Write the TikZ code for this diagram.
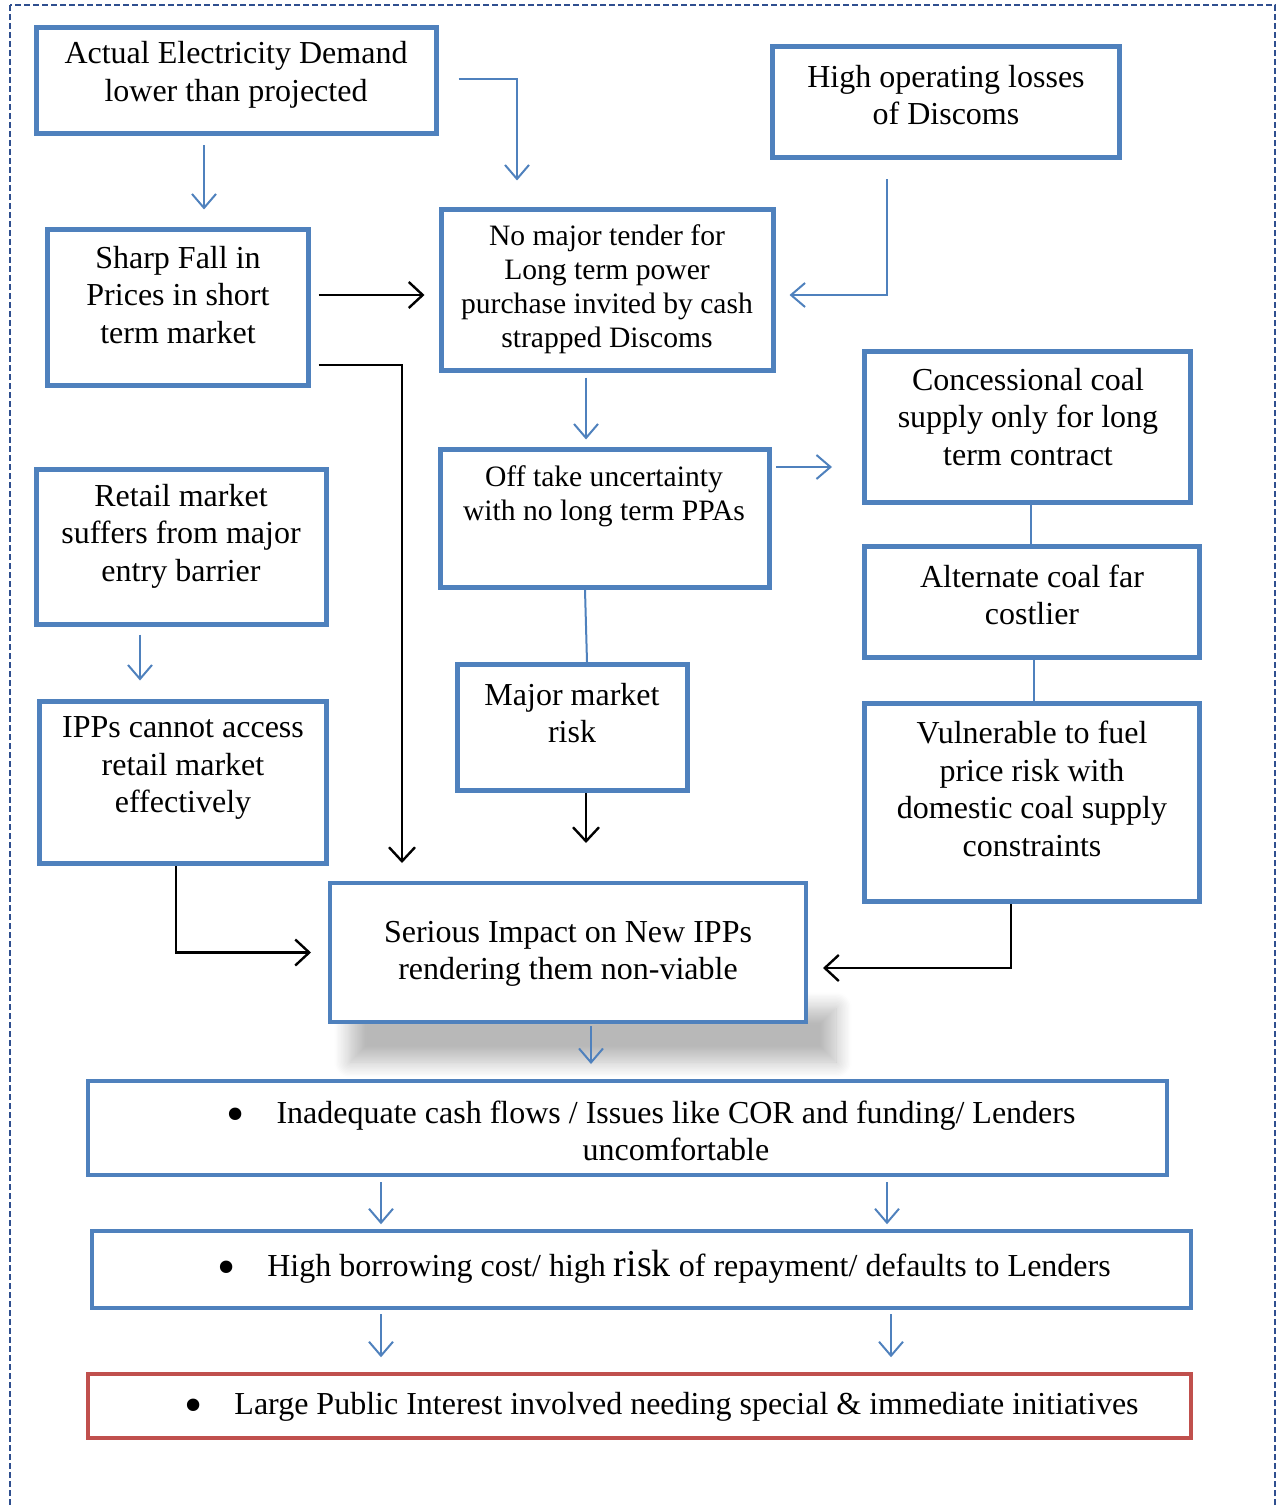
\documentclass[tikz,border=0pt]{standalone}
\usepackage{fontspec}
\setmainfont{Liberation Serif}
\usetikzlibrary{arrows.meta,shadows.blur}
\definecolor{obl}{HTML}{4F81BD}
\definecolor{ored}{HTML}{C0504D}
\definecolor{frm}{HTML}{2F4F8F}
\tikzset{
 box/.style={draw=obl, line width=2.5pt, fill=white, inner sep=0pt},
 txt/.style={align=center, font=\fontsize{16pt}{18.75pt}\selectfont, inner sep=0pt},
 txts/.style={align=center, font=\fontsize{14.8pt}{17pt}\selectfont, inner sep=0pt},
 barrow/.style={draw=obl, line width=1pt, -{Straight Barb[length=7pt,width=12pt]}},
 karrow/.style={draw=black, line width=1.2pt, -{Straight Barb[length=7pt,width=13pt]}},
 bline/.style={draw=obl, line width=1pt},
}
\newcommand{\bul}{\llap{\raisebox{-4pt}{\fontsize{26pt}{26pt}\selectfont\textbullet}\hspace{16pt}}}
\begin{document}
\begin{tikzpicture}[x=0.5pt,y=-0.5pt]
\useasboundingbox (0,0) rectangle (1282,1508);
\draw[frm, line width=1pt, dash pattern=on 3pt off 1.5pt] (10,5) rectangle (1275,1540);

% soft shadow below the central box
\path[blur shadow={shadow xshift=0pt, shadow yshift=0pt, shadow blur radius=8pt, shadow blur steps=12, shadow opacity=28}]
  (350,1008) rectangle (836,1062);

% boxes
\node[box, minimum width=200pt, minimum height=53pt] (act) at (236.5,80.5) {};
\node[box, minimum width=173.5pt, minimum height=55.5pt] (hol) at (946,102) {};
\node[box, minimum width=130.5pt, minimum height=78pt] (sharp) at (178,307.5) {};
\node[box, minimum width=166pt, minimum height=80.5pt] (tender) at (607.5,290) {};
\node[box, minimum width=163pt, minimum height=75.5pt] (conc) at (1027.5,427) {};
\node[box, minimum width=145pt, minimum height=77.5pt] (retail) at (181.5,547) {};
\node[box, minimum width=164.5pt, minimum height=69pt] (offtake) at (605,518.5) {};
\node[box, minimum width=167.5pt, minimum height=55.5pt] (alt) at (1032,602) {};
\node[box, minimum width=115pt, minimum height=63pt] (major) at (572.5,727.5) {};
\node[box, minimum width=143.5pt, minimum height=81pt] (ipps) at (183,782.5) {};
\node[box, minimum width=167.5pt, minimum height=99pt] (vuln) at (1032,802.5) {};
\node[box, line width=2pt, minimum width=238pt, minimum height=69.5pt] (serious) at (568,952.5) {};
\node[box, line width=2.25pt, minimum width=539.5pt, minimum height=47pt] (inad) at (627.5,1128) {};
\node[box, line width=2.25pt, minimum width=549.5pt, minimum height=38.5pt] (borrow) at (641.5,1269.5) {};
\node[box, draw=ored, line width=2.25pt, minimum width=551.5pt, minimum height=32pt] (large) at (639.5,1406) {};

% texts
\node[txt] (actt) at (236,75) {Actual Electricity Demand\\lower than projected};
\node[txt] (holt) at (946,95) {High operating losses\\of Discoms};
\node[txt] (sharpt) at (178,295) {Sharp Fall in\\Prices in short\\term market};
\node[txts] (tendert) at (607,289) {No major tender for\\Long term power\\purchase invited by cash\\strapped Discoms};
\node[txt] (conct) at (1028,417) {Concessional coal\\supply only for long\\term contract};
\node[txt] (retailt) at (181,536) {Retail market\\suffers from major\\entry barrier};
\node[txts] (offtaket) at (604,496) {Off take uncertainty\\with no long term PPAs};
\node[txt] (altt) at (1032,595) {Alternate coal far\\costlier};
\node[txt] (majort) at (572,713) {Major market\\risk};
\node[txt] (ippst) at (183,768) {IPPs cannot access\\retail market\\effectively};
\node[txt] (vulnt) at (1032,789) {Vulnerable to fuel\\price risk with\\domestic coal supply\\constraints};
\node[txt] (seriot) at (568,954) {Serious Impact on New IPPs\\rendering them non-viable};
\node[txt] (inadt) at (676,1131) {\bul Inadequate cash flows / Issues like COR and funding/ Lenders\\uncomfortable};
\node[txt] (borrowt) at (689,1267) {\bul High borrowing cost/ high {\fontsize{19pt}{19pt}\selectfont risk} of repayment/ defaults to Lenders};
\node[txt] (larget) at (686.5,1407) {\bul Large Public Interest involved needing special \& immediate initiatives};

% connectors
\draw[barrow] ([xshift=-16.25pt,yshift=-4.75pt]act.south) -- ++(0,64);
\draw[barrow] ([xshift=9.75pt,yshift=0.75pt]act.east) -| ([xshift=-45.25pt,yshift=13.25pt]tender.north);
\draw[barrow] ([xshift=-29.5pt,yshift=-9.75pt]hol.south) |- ([xshift=6.75pt,yshift=-2.5pt]tender.east);
\draw[karrow] ([xshift=3.75pt,yshift=6.25pt]sharp.east) -- ++(106,0);
\draw[karrow] ([xshift=3.75pt,yshift=-28.75pt]sharp.east) -| ([xshift=-83pt,yshift=9pt]serious.north);
\draw[barrow] ([xshift=-10.75pt,yshift=-2.25pt]tender.south) -- ++(0,62);
\draw[barrow] ([xshift=2pt,yshift=25.75pt]offtake.east) -- ++(56,0);
\draw[bline] ([xshift=1.75pt]conc.south) -- ([xshift=-0.5pt]alt.north);
\draw[bline] ([xshift=-10pt]offtake.south) -- ([xshift=7.25pt]major.north);
\draw[bline] ([xshift=1pt]alt.south) -- ([xshift=1pt]vuln.north);
\draw[karrow] ([xshift=6.75pt]major.south) -- ++(0,50);
\draw[barrow] ([xshift=-20.75pt,yshift=-3.75pt]retail.south) -- ++(0,46);
\draw[karrow] ([xshift=-3.5pt]ipps.south) |- ([xshift=-8.5pt]serious.west);
\draw[karrow] ([xshift=-10.5pt]vuln.south) |- ([xshift=7.5pt,yshift=-7.75pt]serious.east);
\draw[barrow] ([xshift=11.5pt,yshift=-1pt]serious.south) -- ++(0,38);
\draw[barrow] ([xshift=-123.25pt,yshift=-2.5pt]inad.south) -- ++(0,42);
\draw[barrow] ([xshift=129.75pt,yshift=-2.5pt]inad.south) -- ++(0,42);
\draw[barrow] ([xshift=-130.25pt,yshift=-2pt]borrow.south) -- ++(0,43);
\draw[barrow] ([xshift=124.75pt,yshift=-2pt]borrow.south) -- ++(0,43);
\end{tikzpicture}
\end{document}
